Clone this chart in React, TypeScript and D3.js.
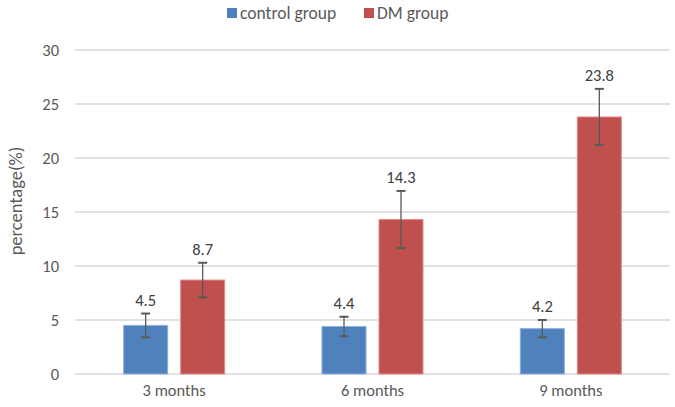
import React from "react";
import * as d3 from "d3";

const categories = ["3 months", "6 months", "9 months"];
const seriesNames = ["control group", "DM group"];
const controlValues = [4.5, 4.4, 4.2];
const dmValues = [8.7, 14.3, 23.8];
const controlErrors = [1.1, 0.9, 0.8];
const dmErrors = [1.6, 2.65, 2.6];
const yTicks = [0, 5, 10, 15, 20, 25, 30];
const colors = ["#4F81BD", "#C0504D"];
const strokes = ["#8EB0DD", "#E08A88"];

const W = 675;
const H = 407;
const M = { left: 75, right: 5, top: 50, bottom: 33 };

export default function App() {
  const x = d3.scaleBand<string>().domain(categories).range([M.left, W - M.right]);
  const y = d3.scaleLinear().domain([0, 30]).range([H - M.bottom, M.top]);
  const barW = 44;
  const gap = 13;
  const series = [
    { values: controlValues, errors: controlErrors },
    { values: dmValues, errors: dmErrors },
  ];
  const font = "Carlito, Calibri, Lato, 'Open Sans', 'Noto Sans', sans-serif";
  const fs = 16.5;
  return (
    <svg width={W} height={H} style={{ position: "absolute", left: 0, top: 0, background: "#fff" }}>
      {yTicks.map((t) => (
        <g key={t}>
          <line x1={M.left} x2={W - M.right} y1={y(t)} y2={y(t)} stroke="#D9D9D9" strokeWidth={1.3} />
          <text x={59} y={y(t)} dy="0.35em" textAnchor="end" fontSize={fs} fill="#595959" fontFamily={font}>
            {t}
          </text>
        </g>
      ))}
      <text
        transform={`translate(${16},${201}) rotate(-90)`}
        textAnchor="middle"
        fontSize={18.5}
        fill="#595959"
        fontFamily={font}
        dy="0.35em"
      >
        percentage(%)
      </text>
      {categories.map((c, i) => {
        const cx = x(c)! + x.bandwidth() / 2;
        return (
          <g key={c}>
            {series.map((s, k) => {
              const bx = k === 0 ? cx - gap / 2 - barW : cx + gap / 2;
              const v = s.values[i];
              const e = s.errors[i];
              const mx = bx + barW / 2;
              return (
                <g key={k}>
                  <rect
                    x={bx}
                    y={y(v)}
                    width={barW}
                    height={y(0) - y(v)}
                    fill={colors[k]}
                    stroke={strokes[k]}
                    strokeWidth={1}
                  />
                  <line x1={mx} x2={mx} y1={y(v + e)} y2={y(v - e)} stroke="#595959" strokeWidth={1.3} />
                  <line x1={mx - 4.5} x2={mx + 4.5} y1={y(v + e)} y2={y(v + e)} stroke="#595959" strokeWidth={2} />
                  <line x1={mx - 4.5} x2={mx + 4.5} y1={y(v - e)} y2={y(v - e)} stroke="#595959" strokeWidth={2} />
                  <text
                    x={mx}
                    y={y(v + e) - 8}
                    textAnchor="middle"
                    fontSize={fs}
                    fill="#404040"
                    fontFamily={font}
                  >
                    {v.toFixed(1)}
                  </text>
                </g>
              );
            })}
            <text x={cx} y={390} dy="0.35em" textAnchor="middle" fontSize={fs} fill="#595959" fontFamily={font}>
              {c}
            </text>
          </g>
        );
      })}
      {seriesNames.map((n, k) => {
        const lx = k === 0 ? 227 : 364;
        return (
          <g key={n}>
            <rect x={lx} y={8} width={10} height={10} fill={colors[k]} />
            <text x={lx + 13} y={13} dy="0.35em" fontSize={17.5} fill="#595959" fontFamily={font}>
              {n}
            </text>
          </g>
        );
      })}
    </svg>
  );
}
